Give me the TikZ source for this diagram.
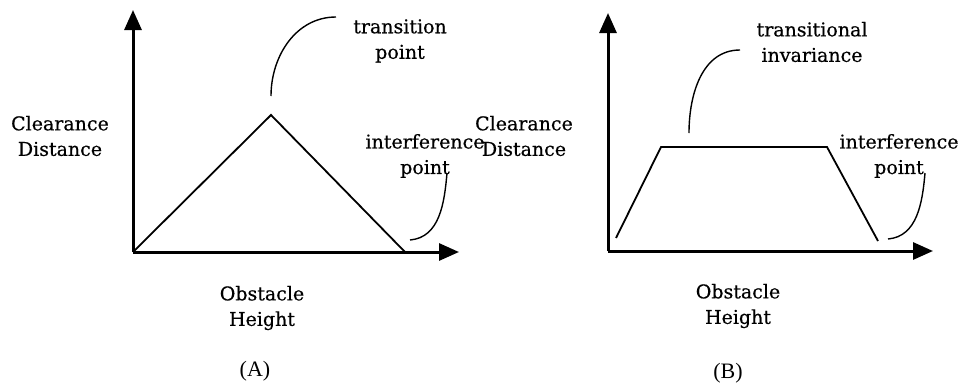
\documentclass[tikz,border=0pt]{standalone}
\usepackage{fontspec}
\setmainfont[FakeBold=0.5]{DejaVu Serif}
\newfontfamily\capfont{Liberation Serif}
\usetikzlibrary{arrows.meta}
\begin{document}
\begin{tikzpicture}[x=1pt,y=-1pt,
  axis/.style={line width=3pt,-{Triangle[length=20pt,width=17pt]}},
  curve/.style={line width=1.8pt},
  leader/.style={line width=1.4pt},
  lbl/.style={align=center,inner sep=0pt,font=\fontsize{19}{25.5}\selectfont},
  captxt/.style={inner sep=0pt,font=\capfont\fontsize{22}{26}\selectfont}]
\useasboundingbox (0,0) rectangle (963,383);
% ---------- Panel A ----------
\coordinate (oA) at (133,252);
\coordinate (yA) at (133,10);
\coordinate (xA) at (459,252);
\draw[axis] (oA) -- (yA);
\draw[axis] (oA) -- (xA);
\coordinate (pkA) at (271,115);
\coordinate (endA) at (405,252);
\draw[curve,line join=miter] (oA) -- (pkA) -- (endA);
\node[lbl] (trA) at (400,41) {transition\\point};
\node[lbl] (cdA) at (60,136) {Clearance\\Distance};
\node[lbl] (ipA) at (425,156) {interference\\point};
\node[lbl] (ohA) at (262,308) {Obstacle\\Height};
\node[captxt] (capA) at (255,371) {(A)};
\coordinate (t1a) at (271,96);
\coordinate (t1b) at (336,17);
\draw[leader] (t1a) to[out=90,in=180] (t1b);
\coordinate (i1a) at (410,240);
\coordinate (i1b) at (447,173);
\draw[leader] (i1a) to[out=5,in=-95] (i1b);
% ---------- Panel B ----------
\coordinate (oB) at (608,251);
\coordinate (yB) at (608,13);
\coordinate (xB) at (933,251);
\draw[axis] (oB) -- (yB);
\draw[axis] (oB) -- (xB);
\coordinate (b1) at (616,238);
\coordinate (b2) at (661,147);
\coordinate (b3) at (827,147);
\coordinate (b4) at (878,241);
\draw[curve,line join=miter] (b1) -- (b2) -- (b3) -- (b4);
\node[lbl] (tiB) at (812,42) {transitional\\invariance};
\node[lbl] (cdB) at (524,136) {Clearance\\Distance};
\node[lbl] (ipB) at (899,156) {interference\\point};
\node[lbl] (ohB) at (738,306) {Obstacle\\Height};
\node[captxt] (capB) at (728,373) {(B)};
\coordinate (t2a) at (689,133);
\coordinate (t2b) at (740,50);
\draw[leader] (t2a) to[out=90,in=180] (t2b);
\coordinate (i2a) at (888,239);
\coordinate (i2b) at (925,173);
\draw[leader] (i2a) to[out=5,in=-95] (i2b);
\end{tikzpicture}
\end{document}
